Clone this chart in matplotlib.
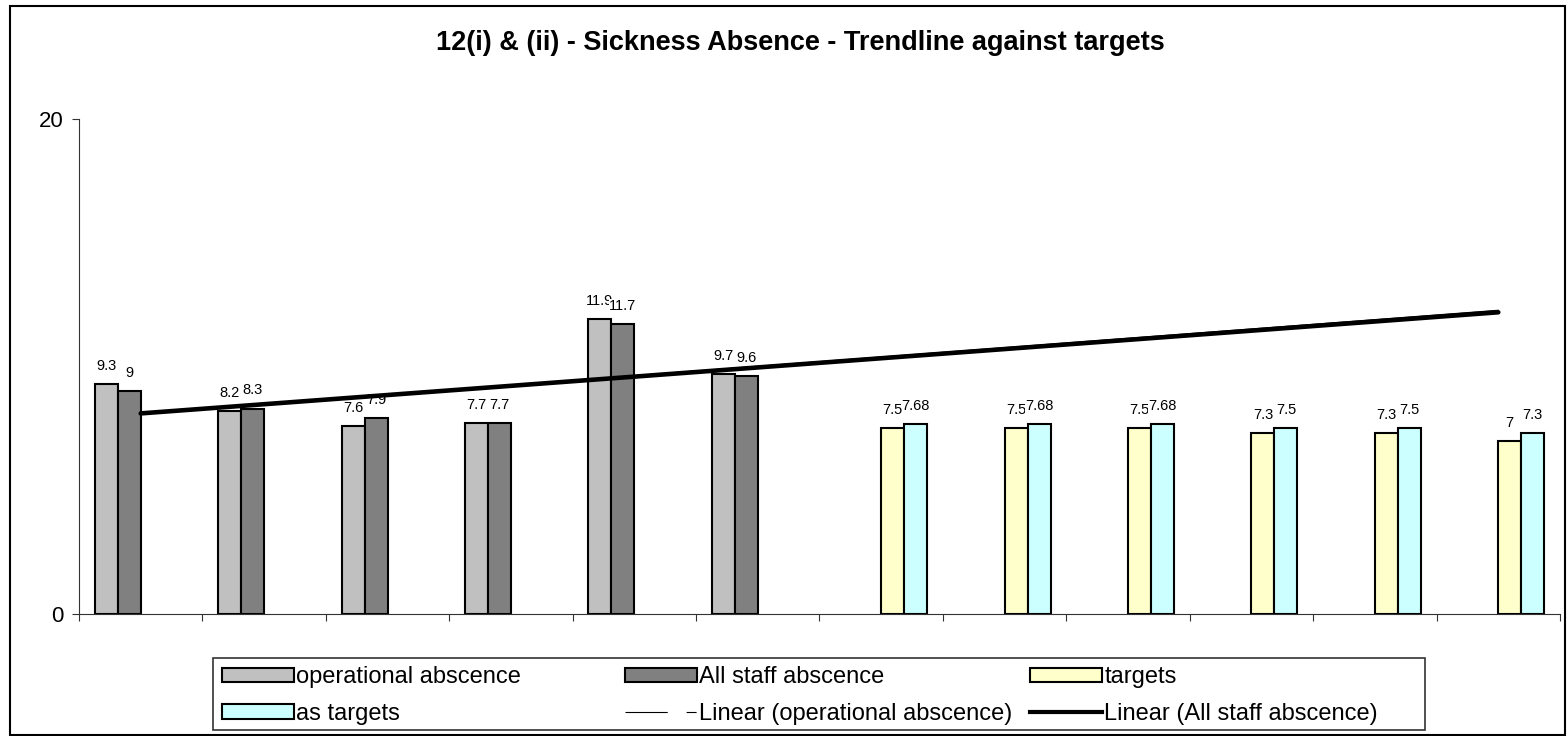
import numpy as np
import matplotlib
matplotlib.use("Agg")
import matplotlib.pyplot as plt
from matplotlib.patches import Patch, Rectangle
from matplotlib.lines import Line2D

plt.rcParams['font.family'] = ['Liberation Sans', 'DejaVu Sans']

# ---- data ----
categories = [str(i) for i in range(1, 13)]
operational = [9.3, 8.2, 7.6, 7.7, 11.9, 9.7, None, None, None, None, None, None]
all_staff = [9.0, 8.3, 7.9, 7.7, 11.7, 9.6, None, None, None, None, None, None]
targets = [None, None, None, None, None, None, 7.5, 7.5, 7.5, 7.3, 7.3, 7.0]
as_targets = [None, None, None, None, None, None, 7.68, 7.68, 7.68, 7.5, 7.5, 7.3]
series_names = ["operational abscence", "All staff abscence", "targets", "as targets"]
trend_names = ["Linear (operational abscence)", "Linear (All staff abscence)"]
title = "12(i) & (ii) - Sickness Absence - Trendline against targets"
y_ticks = [0, 20]

# ---- styles ----
colors = ["#C0C0C0", "#808080", "#FFFFCC", "#CCFFFF"]
W, H = 1567, 736
fig = plt.figure(figsize=(W / 100, H / 100), dpi=100)
ax = fig.add_axes([79 / W, 1 - 614 / H, (1560 - 79) / W, (614 - 119) / H])

x = np.arange(1, len(categories) + 1)
bw = 23 / 123.4
offsets = [-1.5 * bw, -0.5 * bw, 0.5 * bw, 1.5 * bw]
all_series = [operational, all_staff, targets, as_targets]

for s, (vals, col, off) in enumerate(zip(all_series, colors, offsets)):
    v = np.array([np.nan if a is None else a for a in vals], dtype=float)
    m = ~np.isnan(v)
    ax.bar(x[m] + off, v[m], width=bw, color=col, edgecolor='black',
           linewidth=1.5, zorder=2)
    for xi, vi in zip(x[m] + off, v[m]):
        ax.annotate(f"{vi:g}", (xi, vi), xytext=(0, 8), textcoords='offset points',
                    ha='center', va='bottom', fontsize=10.5, zorder=3 + s * 0.01,
                    bbox=dict(fc='white', ec='none', pad=0))

# trendlines (linear fit over available points)
def trend(vals):
    v = np.array([np.nan if a is None else a for a in vals], dtype=float)
    m = ~np.isnan(v)
    k, b = np.polyfit(x[m], v[m], 1)
    return k * x + b

ax.plot(x, trend(operational), color='black', lw=0.8, zorder=4)
ax.plot(x, trend(all_staff), color='black', lw=3.3, zorder=5,
        solid_capstyle='round')

ax.set_xlim(0.5, len(categories) + 0.5)
ax.set_ylim(0, 20)
ax.set_yticks(y_ticks)
ax.set_yticklabels([str(t) for t in y_ticks], fontsize=16)
ax.set_xticks(np.arange(0.5, len(categories) + 1.0, 1.0))
ax.set_xticklabels([])
ax.tick_params(axis='y', length=5.4, width=0.8, pad=5.5, direction='out')
ax.tick_params(axis='x', length=5, width=0.8, direction='out')
for sp in ['top', 'right']:
    ax.spines[sp].set_visible(False)
for sp in ['left', 'bottom']:
    ax.spines[sp].set_linewidth(0.8)
    ax.spines[sp].set_color('#333333')
ax.tick_params(colors='#333333', labelcolor='black')
ax.set_facecolor('none')

# title
fig.text(800 / W, 1 - 43 / H, title, ha='center', va='center',
         fontsize=19.5, fontweight='bold')

# legend: three fixed-width columns
h_op = Patch(facecolor=colors[0], edgecolor='black', linewidth=1.5)
h_all = Patch(facecolor=colors[1], edgecolor='black', linewidth=1.5)
h_t = Patch(facecolor=colors[2], edgecolor='black', linewidth=1.5)
h_as = Patch(facecolor=colors[3], edgecolor='black', linewidth=1.5)
h_lop = Line2D([], [], color='black', lw=0.8, dashes=(38, 17, 9, 100))
h_lall = Line2D([], [], color='black', lw=3.0)
columns = [
    ([h_op, h_as], [series_names[0], series_names[3]], 222),
    ([h_all, h_lop], [series_names[1], trend_names[0]], 625),
    ([h_t, h_lall], [series_names[2], trend_names[1]], 1030),
]
for hs, ls, xpx in columns:
    fig.legend(hs, ls, ncol=1, loc='upper left',
               bbox_to_anchor=(xpx / W, 1 - 666 / H), borderaxespad=0, borderpad=0,
               frameon=False, fontsize=17, handlelength=3.05, handleheight=0.55,
               handletextpad=0.1, labelspacing=0.63)
fig.add_artist(Rectangle((213 / W, 1 - 730 / H), (1425 - 213) / W, (730 - 658) / H,
                         transform=fig.transFigure, fill=False, edgecolor='#333333',
                         linewidth=1.2))

# outer border
fig.add_artist(Rectangle((10 / W, 1 / H), (1565 - 10) / W, (735 - 6) / H,
                         transform=fig.transFigure, fill=False, edgecolor='black',
                         linewidth=1.5))

fig.savefig("out.png", dpi=100, facecolor='white')
